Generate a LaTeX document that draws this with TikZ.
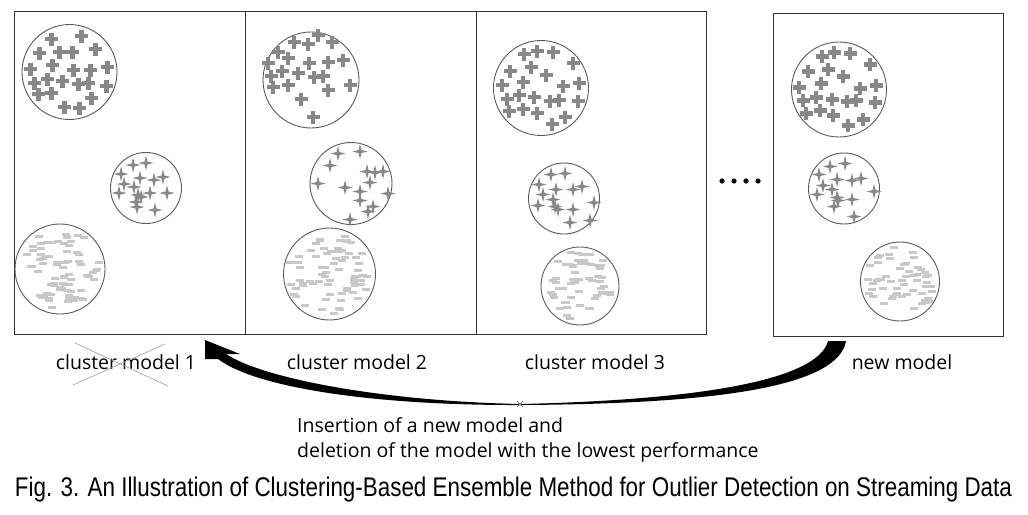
\documentclass[tikz,border=0pt]{standalone}
\usepackage{graphicx}
\usepackage{fontspec}
\setmainfont{Open Sans}
\newfontfamily\capfont{Liberation Sans}
\usetikzlibrary{positioning}
\definecolor{markgray}{HTML}{888888}
\definecolor{dashgray}{HTML}{C8C8C8}
\definecolor{ringgray}{HTML}{5A5A5A}
\tikzset{panel/.style={draw=black!80, line width=0.9pt, inner sep=0, minimum width=231pt, minimum height=323pt}}
\tikzset{blob/.style={circle, draw=ringgray, line width=0.9pt, inner sep=0}}
\tikzset{lbl/.style={font=\fontsize{19.5}{25}\selectfont, inner sep=0}}
\tikzset{plusmark/.pic={\fill[markgray] (-6.5,-2.3) rectangle (6.5,2.3); \fill[markgray] (-2.3,-6.5) rectangle (2.3,6.5);}}
\tikzset{starmark/.pic={\fill[markgray] (0,-7.5) -- (1.5,-1.5) -- (7.5,0) -- (1.5,1.5) -- (0,7.5) -- (-1.5,1.5) -- (-7.5,0) -- (-1.5,-1.5) -- cycle;}}
\newcommand{\pluses}[1]{\foreach \dx/\dy in {#1} \pic at (\dx,\dy) {plusmark};}
\newcommand{\stars}[1]{\foreach \dx/\dy in {#1} \pic at (\dx,\dy) {starmark};}
\newcommand{\dashfill}[3]{% radius, count, seed
  \pgfmathsetseed{#3}
  \foreach \k in {1,...,#2}{
    \pgfmathsetmacro{\ang}{rnd*360}
    \pgfmathsetmacro{\rad}{sqrt(rnd)*(#1)}
    \fill[dashgray] (\ang:\rad) ++(-4,-1.5) rectangle ++(8,3);
  }}

\begin{document}
\begin{tikzpicture}[x=1pt, y=-1pt]
\useasboundingbox (0,0) rectangle (1028,514);
% model panels
\node[panel] (m1) at (129.5,172.5) {};
\node[panel] (m2) at (360.5,172.5) {};
\node[panel, minimum width=230pt] (m3) at (591,172.5) {};
\node[panel, minimum width=230pt] (mn) at (888,174.5) {};

% cluster model 1
\node[blob, minimum size=95pt] (p1) at (69.5,72) {};
\node[blob, minimum size=71pt] (s1) at (146,188) {};
\node[blob, minimum size=90pt] (d1) at (60,269) {};
\begin{scope}[shift={(p1.center)}]
\pluses{-18/-33,12/-36,-30/-19,-10/-20,3/-20,26/-23,-39/-3,-17/-7,4/-2,21/-2,38/-5,-35/11,-22/7,-7/9,9/12,19/11,37/14,-31/22,-18/21,22/26,-5/35,10/36}
\end{scope}
\begin{scope}[shift={(s1.center)}]
\stars{-13/-23,0/-25,-25/-14,-6/-10,8/-8,17/-11,-22/-4,-12/-1,-27/5,-8/7,4/5,21/5,-10/14,-5/9,9/22,-9/19}
\end{scope}
\begin{scope}[shift={(d1.center)}]
\dashfill{40}{75}{11}
\end{scope}

% cluster model 2
\node[blob, minimum size=96pt] (p2) at (311,80) {};
\node[blob, minimum size=82pt] (s2) at (351,183.5) {};
\node[blob, minimum size=92pt] (d2) at (329.5,274) {};
\begin{scope}[shift={(p2.center)}]
\pluses{-17/-38,-3/-36,7/-45,21/-38,-33/-28,-23/-22,-2/-17,17/-18,32/-20,-43/-17,-29/-9,-13/-7,3/-3,12/-4,-40/-4,39/5,-38/7,-23/5,17/10,-10/19,2/37}
\end{scope}
\begin{scope}[shift={(s2.center)}]
\stars{-13/-30,9/-32,-21/-18,-33/0,-6/4,16/-12,24/-11,32/-12,19/-1,9/8,37/10,9/17,22/23,17/28,-1/36}
\end{scope}
\begin{scope}[shift={(d2.center)}]
\dashfill{41}{70}{23}
\end{scope}

% cluster model 3
\node[blob, minimum size=95pt] (p3) at (541,88) {};
\node[blob, minimum size=71pt] (s3) at (564,198.5) {};
\node[blob, minimum size=78pt] (d3) at (580,286) {};
\begin{scope}[shift={(p3.center)}]
\pluses{-17/-34,-4/-37,12/-36,32/-25,-31/-17,-10/-21,5/-13,-18/-6,-39/-3,22/-2,38/-5,-34/11,-22/7,-7/9,9/13,18/12,37/13,-32/23,-18/21,-4/25,11/36,24/29}
\end{scope}
\begin{scope}[shift={(s3.center)}]
\stars{-13/-24,1/-25,-25/-14,-8/-9,9/-9,18/-12,-21/-4,-11/1,-26/7,-6/11,9/11,30/4,-9/8,6/24,26/22}
\end{scope}
\begin{scope}[shift={(d3.center)}]
\dashfill{35}{55}{37}
\end{scope}

% new model
\node[blob, minimum size=95pt] (pn) at (839,89.5) {};
\node[blob, minimum size=71pt] (sn) at (844,188.5) {};
\node[blob, minimum size=79pt] (dn) at (900,281.5) {};
\begin{scope}[shift={(pn.center)}]
\pluses{-17/-33,-5/-37,11/-36,31/-25,-31/-18,-11/-20,4/-13,-18/-6,-40/-2,21/-1,37/-4,-36/11,-23/8,-7/10,8/12,17/11,36/13,-33/24,-19/21,-6/26,9/36,24/30}
\end{scope}
\begin{scope}[shift={(sn.center)}]
\stars{-14/-22,1/-25,-25/-14,-7/-9,8/-8,17/-10,-21/-3,-12/1,-27/6,-7/9,8/11,30/3,-10/18,10/28,-6/12}
\end{scope}
\begin{scope}[shift={(dn.center)}]
\dashfill{35}{55}{51}
\end{scope}

% dots between panels
\foreach \i in {0,...,3} \fill (722+12*\i,181) circle (2.6pt);

% labels
\node[lbl] (l1) at (126,362) {cluster model 1};
\node[lbl] (l2) at (357,362) {cluster model 2};
\node[lbl] (l3) at (595,362) {cluster model 3};
\node[lbl] (ln) at (902,362) {new model};
\draw[black!35, line width=0.7pt] (75,343) -- (168,386) (73,385) -- (165,344);

% replacement arrow
\coordinate (tail) at (837,341);
\coordinate (mid) at (520,404);
\coordinate (tip) at (205,340);
\fill[black] (226,354) .. controls (262,378) and (380,401) .. (mid)
  .. controls (700,400) and (818,380) .. (828,341) -- (846,341)
  .. controls (838,388) and (710,404) .. (520,405)
  .. controls (380,405.5) and (258,389) .. (218,359) -- (205,359) -- (tip) -- (240,354) -- cycle;
\draw[markgray, line width=0.8pt] ([shift={(-3,-3)}]mid) -- ([shift={(3,3)}]mid)
  ([shift={(-3,3)}]mid) -- ([shift={(3,-3)}]mid);
\node[lbl, anchor=west, align=left] (ins) at (297,439.5) {Insertion of a new model and\\deletion of the model with the lowest performance};

% caption
\node[inner sep=0] (cap) at (513.5,490) {\resizebox{997pt}{\height}{\capfont\fontsize{27}{30}\selectfont Fig. 3. An Illustration of Clustering-Based Ensemble Method for Outlier Detection on Streaming Data}};
\end{tikzpicture}
\end{document}
